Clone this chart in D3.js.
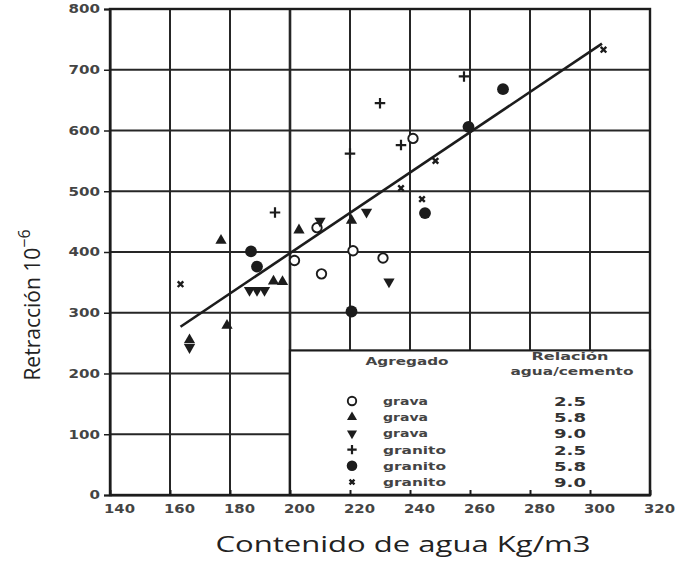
<!DOCTYPE html>
<html>
<head>
<meta charset="utf-8">
<script src="https://cdn.jsdelivr.net/npm/d3@7"></script>
<style>
  body { margin: 0; background: #fff; }
  svg { display: block; }
  .tick text { font-family: "DejaVu Sans", sans-serif; fill: #444; font-weight: bold; }
</style>
</head>
<body>
<svg></svg>
<script>
const width = 675;
const height = 562;

// tick values
const xTicks = [140, 160, 180, 200, 220, 240, 260, 280, 300, 320];
const yTicks = [0, 100, 200, 300, 400, 500, 600, 700, 800];

// [agua kg/m3, retraccion 10^-6]
const gravaA = [[201.5, 386], [210.5, 364], [221, 402], [231, 390], [209, 440], [241, 587]];
const gravaB = [[166.5, 255], [177, 419], [179, 279], [194.5, 352], [197.5, 351], [203, 436], [220.5, 452]];
const gravaC = [[166.5, 243], [186.5, 337], [189, 337], [191.5, 337], [210, 451], [225.5, 466], [233, 351]];
const granitoA = [[195, 465], [220, 562], [230, 645], [237, 576], [258, 689]];
const granitoB = [[187, 401], [189, 376], [220.5, 302], [245, 464], [259.5, 606], [271, 668]];
const granitoC = [[163.5, 347], [237, 505], [244, 487], [248.5, 550], [304.5, 733]];

// fitted line end points
const trend = [[163.5, 277], [304, 743]];

// legend rows
const legendAgregado = ["grava", "grava", "grava", "granito", "granito", "granito"];
const legendRelacion = ["2.5", "5.8", "9.0", "2.5", "5.8", "9.0"];

const ink = "#1c1c1c";

const svg = d3.select("svg")
  .attr("width", width)
  .attr("height", height);

const x = d3.scaleLinear().domain([140, 320]).range([110, 650]);
const y = d3.scaleLinear().domain([0, 800]).range([495, 9]);

// grid
svg.append("g")
  .selectAll("line")
  .data(xTicks)
  .enter()
  .append("line")
  .attr("x1", d => x(d)).attr("x2", d => x(d))
  .attr("y1", y(0)).attr("y2", y(800))
  .attr("stroke", "#262626")
  .attr("stroke-width", d => d === 200 ? 2.6 : 2);

svg.append("g")
  .selectAll("line")
  .data(yTicks)
  .enter()
  .append("line")
  .attr("x1", x(140)).attr("x2", x(320))
  .attr("y1", d => y(d)).attr("y2", d => y(d))
  .attr("stroke", "#262626")
  .attr("stroke-width", 2);

// legend box sits over the lower right grid
const legend = svg.append("g");
legend.append("rect")
  .attr("x", x(200))
  .attr("y", y(238))
  .attr("width", x(320) - x(200))
  .attr("height", y(0) - y(238))
  .attr("fill", "#fff")
  .attr("stroke", ink)
  .attr("stroke-width", 2.2);

// axes
const xAxis = svg.append("g")
  .attr("transform", `translate(0,${y(0)})`)
  .call(d3.axisBottom(x).tickValues(xTicks).tickSizeInner(-5).tickSizeOuter(0));
xAxis.select(".domain").attr("stroke", ink).attr("stroke-width", 2);
xAxis.selectAll(".tick line").attr("stroke", ink).attr("stroke-width", 2);
xAxis.selectAll(".tick text")
  .attr("x", 9)
  .attr("y", 9)
  .attr("font-size", 12)
  .attr("textLength", 31)
  .attr("lengthAdjust", "spacingAndGlyphs");

const yAxis = svg.append("g")
  .attr("transform", `translate(${x(140)},0)`)
  .call(d3.axisLeft(y).tickValues(yTicks).tickSize(6).tickPadding(4).tickFormat(d3.format("d")));
yAxis.select(".domain").attr("stroke", ink).attr("stroke-width", 2);
yAxis.selectAll(".tick line").attr("stroke", ink).attr("stroke-width", 1.5);
yAxis.selectAll(".tick text")
  .attr("font-size", 12)
  .attr("textLength", d => String(d).length * 10.5)
  .attr("lengthAdjust", "spacingAndGlyphs");

// outer frame
svg.append("rect")
  .attr("x", x(140)).attr("y", y(800))
  .attr("width", x(320) - x(140)).attr("height", y(0) - y(800))
  .attr("fill", "none")
  .attr("stroke", ink)
  .attr("stroke-width", 2.4);

// trend line
svg.append("path")
  .datum(trend)
  .attr("fill", "none")
  .attr("stroke", ink)
  .attr("stroke-width", 2.6)
  .attr("d", d3.line().x(d => x(d[0])).y(d => y(d[1])));

// marker styles
const styles = [
  { data: gravaA, shape: d3.symbolCircle, size: 70, fill: "#fff", stroke: ink, sw: 1.9, rot: 0 },
  { data: gravaB, shape: d3.symbolTriangle, size: 55, fill: ink, stroke: "none", sw: 0, rot: 0 },
  { data: gravaC, shape: d3.symbolTriangle, size: 55, fill: ink, stroke: "none", sw: 0, rot: 180 },
  { data: granitoA, shape: d3.symbolPlus, size: 38, fill: "none", stroke: ink, sw: 2.2, rot: 0 },
  { data: granitoB, shape: d3.symbolCircle, size: 110, fill: ink, stroke: "none", sw: 0, rot: 0 },
  { data: granitoC, shape: d3.symbolTimes, size: 22, fill: "none", stroke: ink, sw: 2.4, rot: 0 }
];

styles.forEach(s => {
  svg.append("g")
    .selectAll("path")
    .data(s.data)
    .enter()
    .append("path")
    .attr("transform", d => `translate(${x(d[0])},${y(d[1])}) rotate(${s.rot})`)
    .attr("d", d3.symbol().type(s.shape).size(s.size))
    .attr("fill", s.fill)
    .attr("stroke", s.stroke)
    .attr("stroke-width", s.sw);
});

// legend content
const lf = "DejaVu Sans, sans-serif";
legend.append("text")
  .attr("x", 407).attr("y", 365)
  .attr("text-anchor", "middle")
  .attr("font-family", lf).attr("font-size", 10.5).attr("font-weight", "bold").attr("fill", "#444")
  .attr("textLength", 83).attr("lengthAdjust", "spacingAndGlyphs")
  .text("Agregado");
legend.append("text")
  .attr("x", 570).attr("y", 360)
  .attr("text-anchor", "middle")
  .attr("font-family", lf).attr("font-size", 10.5).attr("font-weight", "bold").attr("fill", "#444")
  .attr("textLength", 77).attr("lengthAdjust", "spacingAndGlyphs")
  .text("Relación");
legend.append("text")
  .attr("x", 572).attr("y", 375)
  .attr("text-anchor", "middle")
  .attr("font-family", lf).attr("font-size", 10.5).attr("font-weight", "bold").attr("fill", "#444")
  .attr("textLength", 123).attr("lengthAdjust", "spacingAndGlyphs")
  .text("agua/cemento");

const rowY = d3.scalePoint().domain(d3.range(6)).range([401, 482]);

legend.selectAll("path.key")
  .data(styles)
  .enter()
  .append("path")
  .attr("class", "key")
  .attr("transform", (s, i) => `translate(352,${rowY(i)}) rotate(${s.rot})`)
  .attr("d", s => d3.symbol().type(s.shape).size(s.size * 0.8)())
  .attr("fill", s => s.fill)
  .attr("stroke", s => s.stroke)
  .attr("stroke-width", s => s.sw);

legend.selectAll("text.agr")
  .data(legendAgregado)
  .enter()
  .append("text")
  .attr("class", "agr")
  .attr("x", 383)
  .attr("y", (d, i) => rowY(i) + 4)
  .attr("font-family", lf).attr("font-size", 10.5).attr("font-weight", "bold").attr("fill", "#444")
  .attr("textLength", d => d.length * 9)
  .attr("lengthAdjust", "spacingAndGlyphs")
  .text(d => d);

legend.selectAll("text.rel")
  .data(legendRelacion)
  .enter()
  .append("text")
  .attr("class", "rel")
  .attr("x", 570)
  .attr("y", (d, i) => rowY(i) + 5)
  .attr("text-anchor", "middle")
  .attr("font-family", lf).attr("font-size", 12.5).attr("font-weight", "bold").attr("fill", "#333")
  .attr("textLength", 32)
  .attr("lengthAdjust", "spacingAndGlyphs")
  .text(d => d);

// axis titles
svg.append("text")
  .attr("x", 403).attr("y", 552)
  .attr("text-anchor", "middle")
  .attr("font-family", "Open Sans, sans-serif").attr("font-size", 22).attr("fill", "#222")
  .attr("textLength", 375).attr("lengthAdjust", "spacingAndGlyphs")
  .text("Contenido de agua Kg/m3");

const yTitle = svg.append("text")
  .attr("transform", "translate(40,305) rotate(-90)")
  .attr("text-anchor", "middle")
  .attr("font-family", "Open Sans, sans-serif").attr("font-size", 21).attr("fill", "#222");
yTitle.append("tspan").text("Retracción 10");
yTitle.append("tspan").attr("font-size", 16).attr("dy", -10).text("−6");
</script>
</body>
</html>
